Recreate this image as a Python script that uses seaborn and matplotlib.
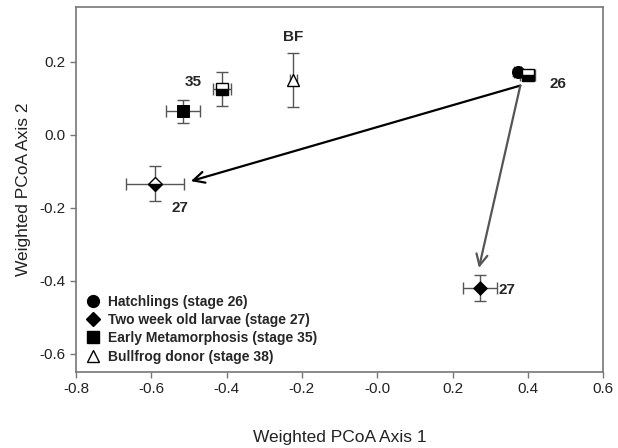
import numpy as np
import pandas as pd
import matplotlib
matplotlib.use("Agg")
import matplotlib.pyplot as plt
import seaborn as sns

# point data
x_vals = [0.373, 0.400, -0.515, -0.412, -0.223, -0.590, 0.272]
y_vals = [0.171, 0.164, 0.064, 0.126, 0.150, -0.134, -0.420]
x_err = [0.010, 0.020, 0.045, 0.023, 0.010, 0.076, 0.045]
y_err = [0.010, 0.010, 0.032, 0.047, 0.074, 0.048, 0.036]
markers = ["o", "s", "s", "s", "^", "D", "D"]
fills = ["full", "bottom", "full", "bottom", "none", "bottom", "full"]

legend_labels = ["Hatchlings (stage 26)", "Two week old larvae (stage 27)",
                 "Early Metamorphosis (stage 35)", "Bullfrog donor (stage 38)"]
legend_markers = ["o", "D", "s", "^"]
legend_fill = ["full", "full", "full", "none"]

point_labels = ["26", "27", "27", "35", "BF"]
label_x = [0.48, -0.525, 0.345, -0.49, -0.223]
label_y = [0.140, -0.200, -0.425, 0.146, 0.268]

arrow_start = (0.38, 0.135)
arrow_ends = [(-0.495, -0.127), (0.27, -0.365)]
arrow_colors = ["black", "#555555"]

sns.set_theme(style="white")
plt.rcParams["font.family"] = ["Liberation Sans", "DejaVu Sans"]

fig = plt.figure(figsize=(6.18, 4.48), dpi=100)
ax = fig.add_axes([0.123, 0.17, 0.853, 0.814])

df = pd.DataFrame({"x": x_vals, "y": y_vals, "xe": x_err, "ye": y_err,
                   "m": markers, "f": fills})
marker_size = {"o": 75, "s": 75, "D": 50, "^": 75}

ax.errorbar(df["x"], df["y"], xerr=df["xe"], yerr=df["ye"], fmt="none",
            ecolor="#555555", elinewidth=1.0, capsize=4, capthick=1.0, zorder=2)

full = df[df["f"] == "full"]
for mk, sub in full.groupby("m"):
    sns.scatterplot(data=sub, x="x", y="y", marker=mk, color="black",
                    s=marker_size[mk], edgecolor="black", legend=False, ax=ax, zorder=3)

for _, r in df[df["f"] != "full"].iterrows():
    ms = np.sqrt(marker_size[r["m"]])
    if r["f"] == "none":
        ax.plot(r["x"], r["y"], marker=r["m"], markersize=ms, markerfacecolor="white",
                markeredgecolor="black", linestyle="none", zorder=3)
    else:
        ax.plot(r["x"], r["y"], marker=r["m"], markersize=ms, fillstyle="bottom",
                markerfacecolor="black", markerfacecoloralt="white",
                markeredgecolor="black", linestyle="none", zorder=3)

for lab, lx, ly in zip(point_labels, label_x, label_y):
    ax.text(lx, ly, lab, fontsize=11, fontweight="bold", ha="center", va="center")

for end, col in zip(arrow_ends, arrow_colors):
    ax.annotate("", xy=end, xytext=arrow_start,
                arrowprops=dict(arrowstyle="->", color=col, lw=1.6,
                                mutation_scale=20, shrinkA=0, shrinkB=0))

handles = []
for lab, mk, fl in zip(legend_labels, legend_markers, legend_fill):
    h, = ax.plot([], [], marker=mk, linestyle="none",
                 markersize=7 if mk == "D" else 8.5,
                 markeredgecolor="black",
                 markerfacecolor="white" if fl == "none" else "black", label=lab)
    handles.append(h)
leg = ax.legend(handles=handles, loc="lower left", frameon=False, fontsize=10,
                handletextpad=0.5, handlelength=1.2, labelspacing=0.3,
                borderaxespad=0.2, bbox_to_anchor=(0.0, 0.0))
for t in leg.get_texts():
    t.set_fontweight("bold")

ax.set_xlim(-0.8, 0.6)
ax.set_ylim(-0.65, 0.35)
ax.set_xticks(np.arange(-0.8, 0.61, 0.2))
ax.set_yticks(np.arange(-0.6, 0.21, 0.2))
ax.set_xticklabels([f"{v:.1f}" for v in np.arange(-0.8, 0.61, 0.2)])
ax.set_yticklabels([f"{v:.1f}" for v in np.arange(-0.6, 0.21, 0.2)])
ax.tick_params(axis="both", direction="out", length=4, width=1, color="#777777",
               labelsize=11, labelcolor="#222222", left=True, bottom=True)
for sp in ax.spines.values():
    sp.set_color("#777777")
    sp.set_linewidth(1.2)

ax.set_xlabel("Weighted PCoA Axis 1", fontsize=12.5, color="#222222", labelpad=24)
ax.set_ylabel("Weighted PCoA Axis 2", fontsize=12.5, color="#222222", labelpad=6)

fig.savefig("out.png", dpi=100)
